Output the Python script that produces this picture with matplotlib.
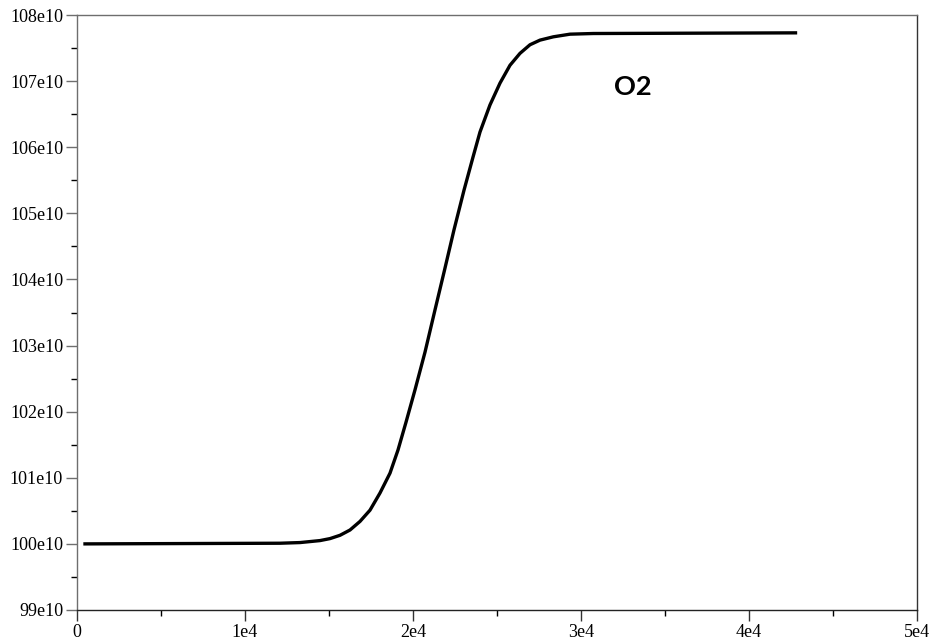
import matplotlib.pyplot as plt
from matplotlib.ticker import MultipleLocator, FuncFormatter

# O2 concentration over time (y in units of 1e10)
t = [476, 12083, 13274, 14464, 15060, 15655, 16250, 16845, 17440, 18036,
     18631, 19107, 19583, 20119, 20714, 21310, 21875, 22440, 23036, 23571,
     23988, 24583, 25179, 25774, 26369, 26964, 27560, 28351, 29345, 30732,
     42768]
o2 = [100.00, 100.01, 100.02, 100.05, 100.08, 100.13, 100.21, 100.34, 100.51, 100.77,
      101.07, 101.42, 101.84, 102.33, 102.90, 103.54, 104.14, 104.75, 105.35, 105.85,
      106.23, 106.64, 106.97, 107.24, 107.42, 107.55, 107.62, 107.67, 107.71, 107.72,
      107.73]

label = "O2"
label_pos = (33100, 106.91)

fig = plt.figure(figsize=(9.32, 6.44), dpi=100)
ax = fig.add_axes([77 / 932, 1 - 610 / 644, 840 / 932, 595 / 644])

ax.plot(t, o2, color='black', lw=2.4, solid_joinstyle='round')

ax.set_xlim(0, 50000)
ax.set_ylim(99, 108)

ax.xaxis.set_major_locator(MultipleLocator(10000))
ax.xaxis.set_minor_locator(MultipleLocator(5000))
ax.yaxis.set_major_locator(MultipleLocator(1))
ax.yaxis.set_minor_locator(MultipleLocator(0.5))

ax.xaxis.set_major_formatter(FuncFormatter(lambda v, p: "0" if v == 0 else f"{int(round(v / 1e4))}e4"))
ax.yaxis.set_major_formatter(FuncFormatter(lambda v, p: f"{int(round(v))}e10"))

for lab in ax.get_xticklabels() + ax.get_yticklabels():
    lab.set_fontfamily('Liberation Serif')
    lab.set_fontsize(13)

ax.tick_params(which='major', length=8, width=1, direction='out', pad=2)
ax.tick_params(which='minor', length=4, width=1, direction='out')
ax.tick_params(axis='y', colors='#6e6e6e', labelcolor='black')
ax.tick_params(axis='x', colors='#333333', labelcolor='black')

for side in ['left', 'top']:
    ax.spines[side].set_color('#6e6e6e')
ax.spines['right'].set_color('#333333')
ax.spines['bottom'].set_color('#222222')
for s in ax.spines.values():
    s.set_linewidth(1)

ax.text(label_pos[0], label_pos[1], label, ha='center', va='center',
        fontsize=19.5, fontweight='bold', family='Lato')

fig.savefig('out.png', dpi=100)
